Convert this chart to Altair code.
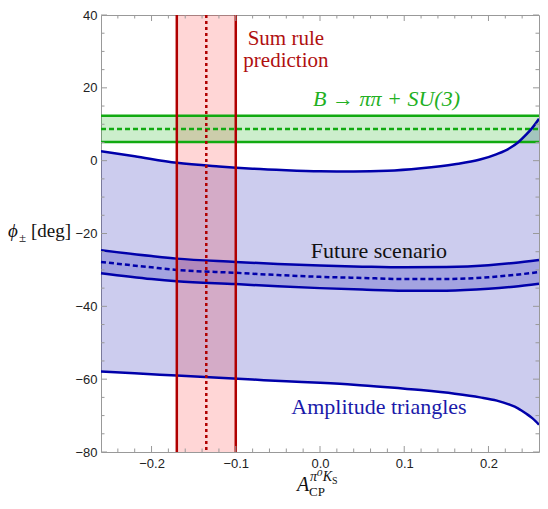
import altair as alt
import pandas as pd

# ---------------- data ----------------
outer_x = [-0.26, -0.22, -0.17, -0.12, -0.08, -0.04, 0.0, 0.04, 0.08, 0.12, 0.16, 0.19, 0.21, 0.225, 0.235, 0.245, 0.252, 0.26]
outer_upper = [2.6, 1.2, -0.6, -1.6, -2.2, -2.6, -2.9, -3.0, -2.8, -2.1, -1.0, 0.3, 1.8, 3.4, 5.0, 7.2, 9.0, 11.5]
outer_lower = [-57.9, -58.4, -59.0, -59.6, -60.1, -60.6, -61.0, -61.5, -62.2, -63.0, -64.0, -65.0, -65.9, -67.0, -68.0, -69.5, -70.7, -72.5]

future_x = [-0.26, -0.2, -0.17, -0.1, -0.05, 0.0, 0.05, 0.1, 0.15, 0.2, 0.23, 0.26]
future_upper = [-24.6, -26.2, -26.9, -27.8, -28.4, -28.8, -29.1, -29.3, -29.2, -28.7, -28.1, -27.3]
future_mid = [-27.8, -29.3, -30.0, -30.8, -31.4, -31.9, -32.2, -32.5, -32.5, -32.0, -31.4, -30.6]
future_lower = [-30.9, -32.5, -33.1, -33.9, -34.5, -35.0, -35.4, -35.7, -35.7, -35.2, -34.6, -33.8]

sum_rule_band = [-0.17, -0.10]
sum_rule_central = [-0.135]
su3_band = [5.1, 12.3]
su3_central = [8.7]

x_ticks = [-0.2, -0.1, 0.0, 0.1, 0.2]
x_minor = [-0.24, -0.22, -0.18, -0.16, -0.14, -0.12, -0.08, -0.06, -0.04, -0.02,
           0.02, 0.04, 0.06, 0.08, 0.12, 0.14, 0.16, 0.18, 0.22, 0.24]
y_ticks = [-80, -60, -40, -20, 0, 20, 40]
y_minor = [-75, -70, -65, -55, -50, -45, -35, -30, -25, -15, -10, -5, 5, 10, 15, 25, 30, 35]

labels = ["Sum rule", "prediction", "B \u2192 \u03c0\u03c0 + SU(3)", "Future scenario", "Amplitude triangles"]

# ---------------- layout / style ----------------
W, H = 438, 437
SERIF = "Liberation Serif, DejaVu Serif"
BLUE = "#0000aa"
RED = "#b00000"
GREEN = "#11aa11"
FRAME = "#999999"

xscale = alt.Scale(domain=[-0.26, 0.26], nice=False, zero=False)
yscale = alt.Scale(domain=[-80, 40], nice=False, zero=False)

outer = pd.DataFrame({"x": outer_x, "up": outer_upper, "lo": outer_lower})
future = pd.DataFrame({"x": future_x, "up": future_upper, "mid": future_mid, "lo": future_lower})

X = lambda f: alt.X(f, type="quantitative", scale=xscale, title=None,
                    axis=alt.Axis(values=x_ticks, format=".1f"))
Y = lambda f: alt.Y(f, type="quantitative", scale=yscale, title=None,
                    axis=alt.Axis(values=y_ticks, format="d"))

layers = []

# blue regions
layers.append(alt.Chart(outer).mark_area(color=BLUE, opacity=0.2, interpolate="monotone").encode(
    x=X("x"), y=Y("up"), y2="lo"))
layers.append(alt.Chart(future).mark_area(color=BLUE, opacity=0.2, interpolate="monotone").encode(
    x=X("x"), y=Y("up"), y2="lo"))

# red band
red_df = pd.DataFrame({"lo": [sum_rule_band[0]], "hi": [sum_rule_band[1]]})
layers.append(alt.Chart(red_df).mark_rect(color="#ff0000", opacity=0.16).encode(
    x=X("lo"), x2="hi", y=alt.value(0), y2=alt.value(H)))

# green band
green_df = pd.DataFrame({"lo": [su3_band[0]], "hi": [su3_band[1]]})
layers.append(alt.Chart(green_df).mark_rect(color="#00aa00", opacity=0.2).encode(
    y=Y("lo"), y2="hi", x=alt.value(0), x2=alt.value(W)))

# green lines
layers.append(alt.Chart(pd.DataFrame({"v": su3_band})).mark_rule(color=GREEN, strokeWidth=2.5).encode(
    y=Y("v"), x=alt.value(0), x2=alt.value(W)))
layers.append(alt.Chart(pd.DataFrame({"v": su3_central})).mark_rule(color=GREEN, strokeWidth=2.5, strokeDash=[5, 3]).encode(
    y=Y("v"), x=alt.value(0), x2=alt.value(W)))

# blue lines
for col in ["up", "lo"]:
    layers.append(alt.Chart(outer).mark_line(color=BLUE, strokeWidth=2.5, interpolate="monotone", clip=True).encode(
        x=X("x"), y=Y(col)))
for col in ["up", "lo"]:
    layers.append(alt.Chart(future).mark_line(color=BLUE, strokeWidth=2.5, interpolate="monotone").encode(
        x=X("x"), y=Y(col)))
layers.append(alt.Chart(future).mark_line(color=BLUE, strokeWidth=2.5, strokeDash=[5, 3], interpolate="monotone").encode(
    x=X("x"), y=Y("mid")))

# red lines
layers.append(alt.Chart(pd.DataFrame({"v": sum_rule_band})).mark_rule(color=RED, strokeWidth=2.5).encode(
    x=X("v"), y=alt.value(0), y2=alt.value(H)))
layers.append(alt.Chart(pd.DataFrame({"v": sum_rule_central})).mark_rule(color=RED, strokeWidth=2.5, strokeDash=[3, 3]).encode(
    x=X("v"), y=alt.value(0), y2=alt.value(H)))

# frame ticks (inward, Mathematica style)
tick_style = dict(color=FRAME, strokeWidth=1)
for vals, ln in [(x_ticks, 6), (x_minor, 3.5)]:
    d = pd.DataFrame({"v": vals})
    layers.append(alt.Chart(d).mark_rule(**tick_style).encode(x=X("v"), y=alt.value(H), y2=alt.value(H - ln)))
    layers.append(alt.Chart(d).mark_rule(**tick_style).encode(x=X("v"), y=alt.value(0), y2=alt.value(ln)))
for vals, ln in [(y_ticks, 6), (y_minor, 3.5)]:
    d = pd.DataFrame({"v": vals})
    layers.append(alt.Chart(d).mark_rule(**tick_style).encode(y=Y("v"), x=alt.value(0), x2=alt.value(ln)))
    layers.append(alt.Chart(d).mark_rule(**tick_style).encode(y=Y("v"), x=alt.value(W), x2=alt.value(W - ln)))

# annotations
def label(txt, x, y, color, size=22, style="normal", align="center"):
    return alt.Chart(pd.DataFrame({"t": [txt]})).mark_text(
        font=SERIF, fontSize=size, color=color, fontStyle=style, align=align, baseline="alphabetic"
    ).encode(x=alt.datum(x), y=alt.datum(y), text="t:N")

layers.append(label(labels[0], -0.0405, 31.7, "#b01010", size=21))
layers.append(label(labels[1], -0.0405, 25.7, "#b01010", size=21))
layers.append(label(labels[2], 0.079, 15.0, "#22b022", style="italic"))
layers.append(label(labels[3], 0.070, -26.6, "#111111"))
layers.append(label(labels[4], 0.070, -69.5, "#1a1aaa"))

# axis titles drawn as text (pixel positions relative to plot area)
def ptext(txt, px, py, size, style="normal", align="left"):
    return alt.Chart(pd.DataFrame({"t": [txt]})).mark_text(
        font=SERIF, fontSize=size, color="#111111", fontStyle=style, align=align, baseline="alphabetic"
    ).encode(x=alt.value(px), y=alt.value(py), text="t:N")

layers.append(ptext("\u03d5", -93, 222, 19, style="italic"))
layers.append(ptext("\u00b1", -82, 227, 13))
layers.append(ptext("[deg]", -70, 222, 19))

layers.append(ptext("A", 196, 476, 20, style="italic"))
layers.append(ptext("\u03c0\u2070K", 209, 466, 14, style="italic"))
layers.append(ptext("S", 231, 469, 10))
layers.append(ptext("CP", 208, 481, 13))

chart = alt.layer(*layers).properties(
    width=W, height=H,
    padding={"left": 93, "top": 7, "right": 1, "bottom": 48},
    autosize=alt.AutoSizeParams(type="none"),
).configure_view(
    stroke=FRAME, strokeWidth=1
).configure_axis(
    grid=False, domain=False, ticks=False, tickSize=0,
    labelFont="Liberation Sans", labelFontSize=13, labelColor="#222222",
).configure_axisX(labelPadding=5).configure_axisY(labelPadding=4)

chart.save("out.html", embed_options={"renderer": "svg", "actions": False})
